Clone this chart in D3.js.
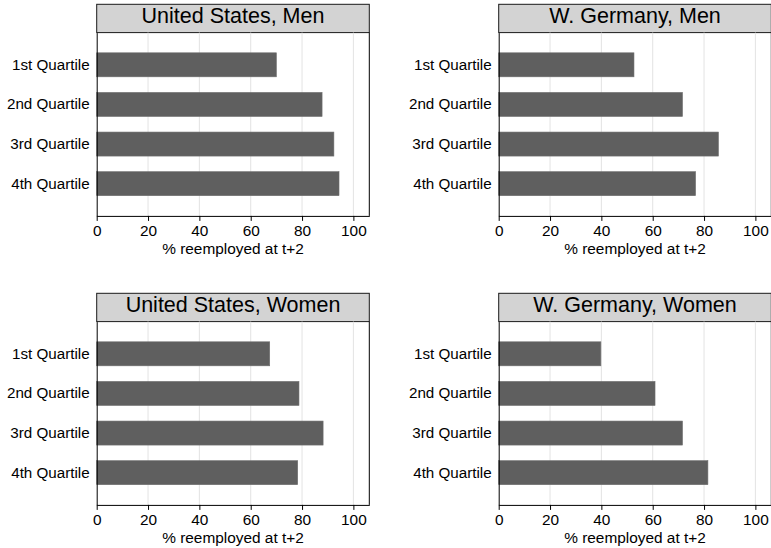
<!DOCTYPE html>
<html>
<head>
<meta charset="utf-8">
<script src="https://cdn.jsdelivr.net/npm/d3@7"></script>
<style>
  html, body { margin: 0; padding: 0; background: #fff; }
  svg { display: block; font-family: "Liberation Sans", Arial, Helvetica, sans-serif; }
</style>
</head>
<body>
<svg id="chart" width="771" height="548"></svg>
<script>
// ---- data ----
const categories = ["1st Quartile", "2nd Quartile", "3rd Quartile", "4th Quartile"];
const panelTitles = ["United States, Men", "W. Germany, Men", "United States, Women", "W. Germany, Women"];
const usMen = [70.0, 87.8, 92.4, 94.4];
const wgMen = [52.7, 71.6, 85.6, 76.7];
const usWomen = [67.4, 78.8, 88.2, 78.3];
const wgWomen = [39.8, 60.9, 71.6, 81.5];
const xTicks = [0, 20, 40, 60, 80, 100];
const xTitle = "% reemployed at t+2";

const panelValues = [usMen, wgMen, usWomen, wgWomen];

// ---- layout ----
const svg = d3.select("#chart");
const W = 272.6, headerH = 28.3, plotH = 183.3;
const origins = [[96.7, 4.3], [498.7, 4.3], [96.7, 293.3], [498.7, 293.3]];
const FONT = "\"Liberation Sans\", Arial, sans-serif";

const x = d3.scaleLinear().domain([0, 106.2]).range([0, W]);
const y = d3.scaleBand().domain(categories).range([0, plotH]).paddingInner(0.394).paddingOuter(0.51);

panelValues.forEach((vals, i) => {
  const [ox, oy] = origins[i];
  const g = svg.append("g").attr("transform", `translate(${ox},${oy})`);

  // header
  g.append("rect").attr("x", 0).attr("y", 0).attr("width", W).attr("height", headerH)
    .attr("fill", "#d3d3d3").attr("stroke", "#1a1a1a").attr("stroke-width", 1);
  g.append("text").attr("x", W / 2).attr("y", headerH / 2 + 5)
    .attr("text-anchor", "middle").attr("font-size", 21.5).attr("fill", "#000")
    .text(panelTitles[i]);

  const p = g.append("g").attr("transform", `translate(0,${headerH})`);

  // grid
  p.selectAll("line.grid").data(xTicks.filter(t => t > 0)).enter().append("line")
    .attr("x1", d => x(d)).attr("x2", d => x(d)).attr("y1", 0).attr("y2", plotH)
    .attr("stroke", "#e3e3e3").attr("stroke-width", 1);

  // bars
  p.selectAll("rect.bar").data(categories).enter().append("rect")
    .attr("x", x(0)).attr("y", d => y(d))
    .attr("width", (d, j) => x(vals[j]) - x(0)).attr("height", y.bandwidth())
    .attr("fill", "#5f5f5f").attr("stroke", "#6e6e6e").attr("stroke-width", 0.6);

  // frame right
  p.append("line").attr("x1", W).attr("x2", W).attr("y1", 0).attr("y2", plotH)
    .attr("stroke", "#000").attr("stroke-width", 1);

  // y axis (labels only)
  const ya = p.append("g").call(d3.axisLeft(y).tickSize(0).tickPadding(7));
  ya.select(".domain").attr("stroke", "#000").attr("stroke-width", 1);
  ya.selectAll("text").attr("font-size", 15.2).attr("fill", "#000").attr("font-family", FONT);

  // x axis
  const xa = p.append("g").attr("transform", `translate(0,${plotH})`)
    .call(d3.axisBottom(x).tickValues(xTicks).tickSize(5).tickPadding(4).tickSizeOuter(0));
  xa.select(".domain").attr("stroke", "#000").attr("stroke-width", 1);
  xa.selectAll(".tick line").attr("stroke", "#000");
  xa.selectAll("text").attr("font-size", 15.4).attr("fill", "#000").attr("font-family", FONT);

  p.append("text").attr("x", W / 2).attr("y", plotH + 38)
    .attr("text-anchor", "middle").attr("font-size", 15.4).attr("fill", "#000")
    .text(xTitle);
});
</script>
</body>
</html>
